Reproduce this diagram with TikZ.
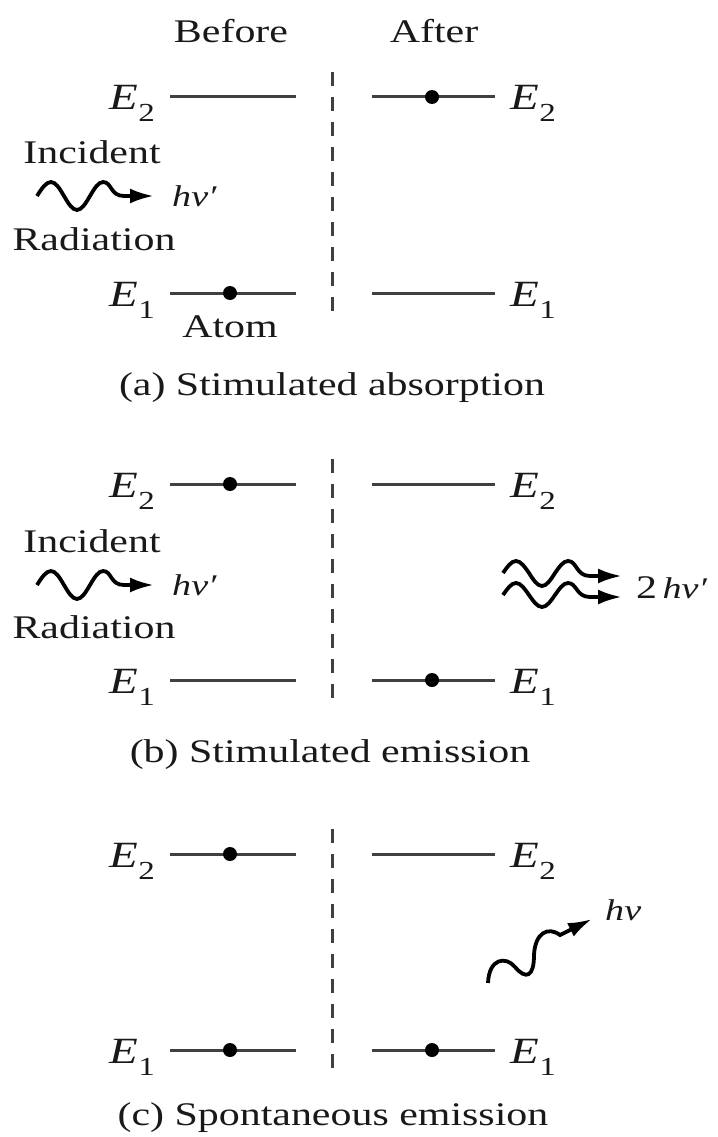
\documentclass[tikz,border=0pt]{standalone}
\usepackage{fontspec}
\setmainfont[FakeStretch=1.27]{Liberation Serif}
\usetikzlibrary{arrows.meta}
\newcommand\lev[1]{{\fontsize{37}{40}\selectfont\itshape E}\kern0.5pt\raisebox{-12pt}{\fontsize{26}{28}\selectfont #1}}
\newcommand\bigtxt{\fontsize{33}{36}\selectfont}
\tikzset{
  level/.style={line width=3pt, black!75},
  divider/.style={line width=3pt, black!75, dash pattern=on 14pt off 11pt},
  dot/.style={circle, fill=black, inner sep=0pt, minimum size=14pt},
  txt/.style={inner sep=0pt, text=black!90, font=\bigtxt},
  elab/.style={inner sep=0pt, text=black!90},
  photon/.style={line width=3.8pt, black, -{Latex[length=24pt,width=15pt]}},
}
\begin{document}
\begin{tikzpicture}[x=1pt,y=-1pt]
\useasboundingbox[fill=white] (0,0) rectangle (717,1137);

% level lines, dividers and labels for the three panels
\foreach \p/\dy in {a/0,b/387,c/757}{
  \coordinate (\p LtwoA) at (170,97+\dy);
  \coordinate (\p LtwoB) at (296,97+\dy);
  \coordinate (\p LoneA) at (170,293+\dy);
  \coordinate (\p LoneB) at (296,293+\dy);
  \coordinate (\p RtwoA) at (372,97+\dy);
  \coordinate (\p RtwoB) at (495,97+\dy);
  \coordinate (\p RoneA) at (372,293+\dy);
  \coordinate (\p RoneB) at (495,293+\dy);
  \coordinate (\p DivT) at (332,72+\dy);
  \coordinate (\p DivB) at (332,318+\dy);
  \draw[level] (\p LtwoA) -- (\p LtwoB);
  \draw[level] (\p LoneA) -- (\p LoneB);
  \draw[level] (\p RtwoA) -- (\p RtwoB);
  \draw[level] (\p RoneA) -- (\p RoneB);
  \draw[divider] (\p DivT) -- (\p DivB);
  \node[elab, anchor=base east] (\p ltwoL) at (155,110+\dy) {\lev{2}};
  \node[elab, anchor=base east] (\p loneL) at (155,306+\dy) {\lev{1}};
  \node[elab, anchor=base west] (\p ltwoR) at (510,110+\dy) {\lev{2}};
  \node[elab, anchor=base west] (\p loneR) at (510,306+\dy) {\lev{1}};
}

% headers
\node[txt, anchor=base] (before) at (231,43) {Before};
\node[txt, anchor=base] (after) at (434,43) {After};

% (a) stimulated absorption
\node[dot] (adotL) at (230,293) {};
\node[dot] (adotR) at (432,97) {};
\node[txt, anchor=base] (ainc) at (92,163) {Incident};
\node[txt, anchor=base] (arad) at (94,250) {Radiation};
\node[txt, anchor=base] (atom) at (230,337) {Atom};
\node[txt, anchor=base west] (ahv) at (172,206) {\fontsize{30}{32}\selectfont\itshape hν′};
\coordinate (awS) at (37,196);
\coordinate (awE) at (154,196);
\draw[photon] (awS) sin (51,182) cos (64,196) sin (77,210) cos (90,196) sin (103,182)
  .. controls (112,182) and (110,196) .. (124,196) -- (awE);
\node[txt, anchor=base] (capa) at (332,395) {(a) Stimulated absorption};

% (b) stimulated emission
\node[dot] (bdotL) at (230,484) {};
\node[dot] (bdotR) at (432,680) {};
\node[txt, anchor=base] (binc) at (92,552) {Incident};
\node[txt, anchor=base] (brad) at (94,638) {Radiation};
\node[txt, anchor=base west] (bhv) at (172,595) {\fontsize{30}{32}\selectfont\itshape hν′};
\coordinate (bwS) at (37,585);
\coordinate (bwE) at (154,585);
\draw[photon] (bwS) sin (51,571) cos (64,585) sin (77,599) cos (90,585) sin (103,571)
  .. controls (112,571) and (110,585) .. (124,585) -- (bwE);
\coordinate (b2S) at (503,573);
\coordinate (b2E) at (622,576);
\draw[photon] (b2S) sin (516,561) cos (529,573) sin (542,586) cos (555,573) sin (568,561)
  .. controls (577,561) and (576,576) .. (590,576) -- (b2E);
\coordinate (b3S) at (503,595);
\coordinate (b3E) at (622,597);
\draw[photon] (b3S) sin (516,583) cos (529,595) sin (542,607) cos (555,595) sin (568,583)
  .. controls (577,583) and (576,597) .. (590,597) -- (b3E);
\node[txt, anchor=base west] (b2hv) at (636,598) {2\,{\fontsize{30}{32}\selectfont\itshape hν′}};
\node[txt, anchor=base] (capb) at (330,762) {(b) Stimulated emission};

% (c) spontaneous emission
\node[dot] (cdotL2) at (230,854) {};
\node[dot] (cdotL1) at (230,1050) {};
\node[dot] (cdotR1) at (432,1050) {};
\coordinate (cwS) at (488,983);
\coordinate (cwE) at (592,919);
\draw[photon] (cwS) .. controls (489,958) and (506,956) .. (515,967)
  .. controls (526,980) and (534,977) .. (534,955)
  .. controls (535,933) and (548,926) .. (560,935) -- (cwE);
\node[txt, anchor=base west] (chv) at (605,920) {\fontsize{30}{32}\selectfont\itshape hν};
\node[txt, anchor=base] (capc) at (333,1125) {(c) Spontaneous emission};
\end{tikzpicture}
\end{document}
